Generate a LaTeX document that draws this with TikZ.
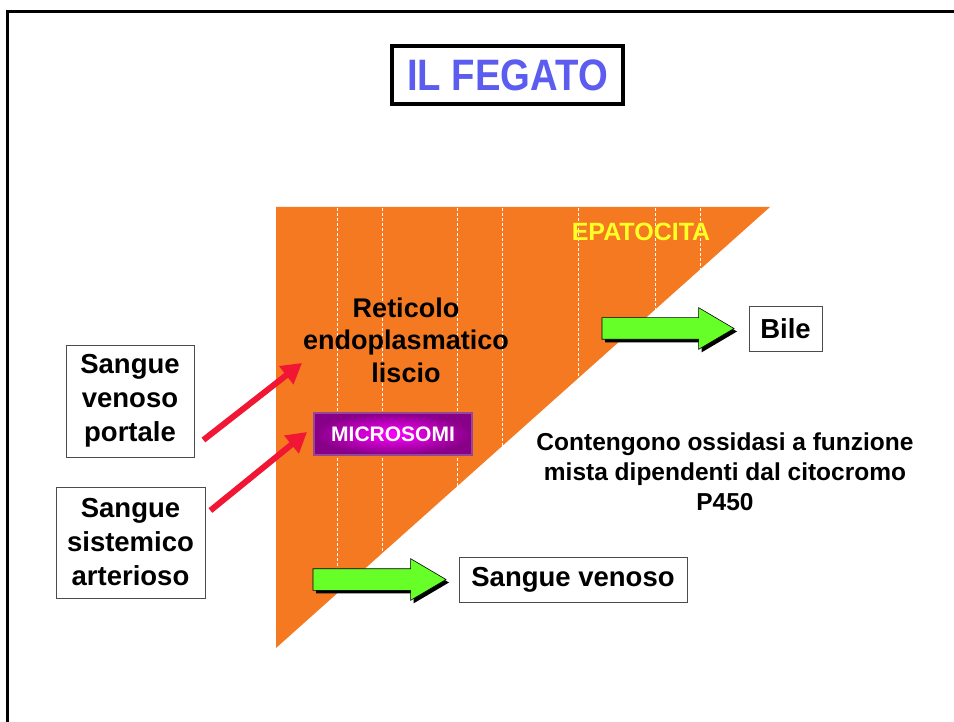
\documentclass[tikz,border=0pt]{standalone}
\usepackage{fontspec}
\setmainfont{Liberation Sans}
\newfontfamily\narrowfont[FakeStretch=0.87]{Liberation Sans}
\usetikzlibrary{positioning,arrows.meta,shapes.arrows,shadows}

\definecolor{epato}{RGB}{245,121,32}
\definecolor{titleblue}{RGB}{92,92,240}
\definecolor{epyellow}{RGB}{255,255,40}
\definecolor{agreen}{RGB}{102,255,40}
\definecolor{ared}{RGB}{240,22,52}
\definecolor{micout}{RGB}{135,0,135}
\definecolor{micin}{RGB}{255,0,255}
\definecolor{micborder}{RGB}{150,70,150}

\begin{document}
\begin{tikzpicture}[x=1pt,y=-1pt,
		box/.style={draw=black!70, line width=0.8pt, fill=white, align=center, inner sep=0pt,
			font=\bfseries\fontsize{27.5}{34}\selectfont},
		titlebox/.style={draw=black, line width=4pt, fill=white, text=titleblue, inner sep=0pt,
			minimum width=231pt, minimum height=58pt, font=\narrowfont\bfseries\fontsize{44}{44}\selectfont},
		micbox/.style={draw=micborder, line width=1.5pt, inner color=micin, outer color=micout,
			text=white, minimum width=158pt, minimum height=42pt, inner sep=0pt,
			font=\bfseries\fontsize{21}{21}\selectfont},
		garrow/.style={single arrow, draw=black, line width=0.6pt, fill=agreen, inner sep=10.5pt,
			single arrow head extend=10pt, single arrow tip angle=61,
			drop shadow={shadow xshift=3pt, shadow yshift=-3pt, fill=black, opacity=1}},
		redarrow/.style={draw=ared, line width=6pt, -{Triangle[length=20pt,width=22pt]}},
		cellline/.style={draw=white, line width=0.6pt, densely dashed}
	]
	\useasboundingbox (0,0) rectangle (954,722);
	
	% frame
	\draw[line width=3pt] (7,722) -- (7,12) -- (954,12);
	
	\node[titlebox] (title) at (507.5,75) {IL FEGATO};
	
	% hepatocyte
	\fill[epato] (276,207) -- (770,207) -- (276,648) -- cycle;
	\foreach \x in {337,382,457,502,578,655,700}
		\draw[cellline] (\x,208) -- (\x,{207+(770-\x)*0.8927});
	
	\node[text=epyellow, font=\bfseries\fontsize{25}{25}\selectfont] (epa) at (641,232) {EPATOCITA};
	\node[align=center, font=\bfseries\fontsize{27}{32.5}\selectfont] (ret) at (406,340) {Reticolo\\endoplasmatico\\liscio};
	\node[micbox] (mic) at (393,434) {MICROSOMI};
	\node[align=center, font=\bfseries\fontsize{24.5}{30}\selectfont] (cont) at (725,472)
		{Contengono ossidasi a funzione\\mista dipendenti dal citocromo\\P450};
	
	% blood in
	\node[box, minimum width=128pt, minimum height=112pt] (box_vp) at (130,401) {Sangue\\venoso\\portale};
	\node[box, minimum width=149pt, minimum height=111pt] (box_sa) at (130.5,542.5) {Sangue\\sistemico\\arterioso};
	
	\coordinate (in_ret) at (302,363);
	\coordinate (in_mic) at (307,432);
	\draw[redarrow] ([shift={(9,39)}]box_vp.east) -- (in_ret);
	\draw[redarrow] ([shift={(5,-32)}]box_sa.east) -- (in_mic);
	
	% out
	\node[box, minimum width=73pt, minimum height=45pt] (bile) at (785.5,328.5) {Bile};
	\node[box, minimum width=228pt, minimum height=45pt] (s_ven) at (573,579.5) {Sangue venoso};
	
	\node[garrow, minimum height=132pt, left=14pt of bile] (arr_bile) {};
	\node[garrow, minimum height=133pt, left=12pt of s_ven] (arr_ven) {};
\end{tikzpicture}
\end{document}
